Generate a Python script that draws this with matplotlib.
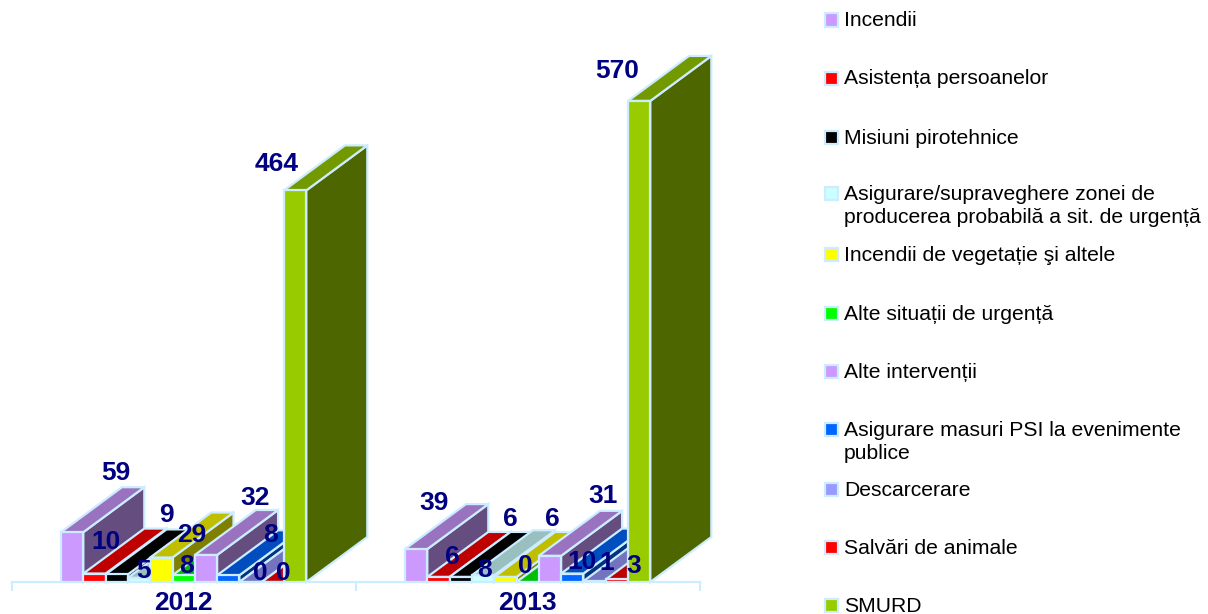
"""Oblique 3D-style bars: interventions per type, 2012 vs 2013."""
import matplotlib
matplotlib.use("Agg")
import matplotlib.pyplot as plt
from matplotlib.patches import Polygon, Rectangle

plt.rcParams["font.family"] = ["Liberation Sans", "DejaVu Sans"]

years = ["2012", "2013"]
series = ["Incendii", "Asistența persoanelor", "Misiuni pirotehnice",
          "Asigurare/supraveghere zonei de\nproducerea probabilă a sit. de urgență",
          "Incendii de vegetație şi altele", "Alte situații de urgență",
          "Alte intervenții", "Asigurare masuri PSI la evenimente\npublice",
          "Descarcerare", "Salvări de animale", "SMURD"]
values_2012 = [59, 10, 9, 5, 29, 8, 32, 8, 0, 0, 464]
values_2013 = [39, 6, 6, 8, 6, 0, 31, 10, 1, 3, 570]

front_colors = ["#CC99FF", "#FF0000", "#000000", "#CCFFFF", "#FFFF00", "#00FF00",
                "#CC99FF", "#0066FF", "#9999FF", "#FF0000", "#99CC00"]

# label offsets from the bar's front-top centre, in pixels (the original has them hand-placed)
label_off_2012 = [(44, 59), (12, 32), (50, 59), (4, 7), (30, 23), (3, 9),
                  (49, 57), (42, 40), (10, 9), (10, 9), (-19, 26)]
label_off_2013 = [(18, 46), (14, 20), (50, 58), (1, 5), (47, 58), (-2, 16),
                  (53, 60), (10, 12), (12, 18), (17, 13), (-22, 30)]

# legend rows, figure pixels from the top (first line of each entry)
legend_y = [20, 78, 137, 193, 254, 313, 371, 429, 489, 547, 605]

W, H = 1208, 614
SLOT_PX = 22.3      # bar width in px
UNIT_PX = 0.844     # px per unit of value
BASE_PX = 582       # baseline from the top
LEFT_PX = 61        # first bar's left edge
DEPTH_X = 61 / SLOT_PX
DEPTH_Y = 45 / UNIT_PX
GROUP_STEP = 344 / SLOT_PX
NAVY = "#000080"
EDGE = "#CCECFF"


def shade(hex_color, k):
    r, g, b = matplotlib.colors.to_rgb(hex_color)
    return (r * k, g * k, b * k)


fig = plt.figure(figsize=(W / 100, H / 100), dpi=100)
ax = fig.add_axes([0, 0, 1, 1])
x0 = -LEFT_PX / SLOT_PX
ax.set_xlim(x0, x0 + W / SLOT_PX)
ax.set_ylim(-(H - BASE_PX) / UNIT_PX, BASE_PX / UNIT_PX)
ax.axis("off")

z = 2
for g, (vals, offs) in enumerate([(values_2012, label_off_2012), (values_2013, label_off_2013)]):
    start = g * GROUP_STEP
    for i, (v, col) in enumerate(zip(vals, front_colors)):
        l = start + i
        r = l + 1
        side = [(r, 0), (r + DEPTH_X, DEPTH_Y), (r + DEPTH_X, v + DEPTH_Y), (r, v)]
        top = [(l, v), (r, v), (r + DEPTH_X, v + DEPTH_Y), (l + DEPTH_X, v + DEPTH_Y)]
        ax.add_patch(Polygon(side, fc=shade(col, 0.5), ec=EDGE, lw=1.6, zorder=z))
        ax.add_patch(Polygon(top, fc=shade(col, 0.75), ec=EDGE, lw=1.6, zorder=z))
        ax.add_patch(Rectangle((l, 0), 1, v, fc=col, ec=EDGE, lw=1.6, zorder=z))
        z += 1
    for i, v in enumerate(vals):
        ax.annotate(str(v), xy=(start + i + 0.5, v), xytext=offs[i], textcoords="offset pixels",
                    ha="center", va="center", fontsize=19, fontweight="bold",
                    color=NAVY, zorder=100)
    ax.text(start + 5.5, -(603 - BASE_PX) / UNIT_PX, years[g], ha="center", va="center",
            fontsize=19, fontweight="bold", color=NAVY)

# category axis with its three ticks
ax_left = -49 / SLOT_PX
ax.plot([ax_left, ax_left + 2 * GROUP_STEP], [0, 0], color=EDGE, lw=1.5, zorder=1)
for k in range(3):
    tx = ax_left + k * GROUP_STEP
    ax.plot([tx, tx], [0, -8 / UNIT_PX], color=EDGE, lw=1.5, zorder=1)

# legend drawn by hand, rows are unevenly spaced in the original
for name, col, y in zip(series, front_colors, legend_y):
    fig.add_artist(Rectangle((825 / W, 1 - (y + 6.5) / H), 13 / W, 13 / H, fc=col, ec=EDGE, lw=1.6,
                             transform=fig.transFigure))
    fig.text(844 / W, 1 - (y - 8.5) / H, name, fontsize=15.2, color="#000000", va="top", ha="left",
             linespacing=1.3)

fig.savefig("out.png", dpi=100)
